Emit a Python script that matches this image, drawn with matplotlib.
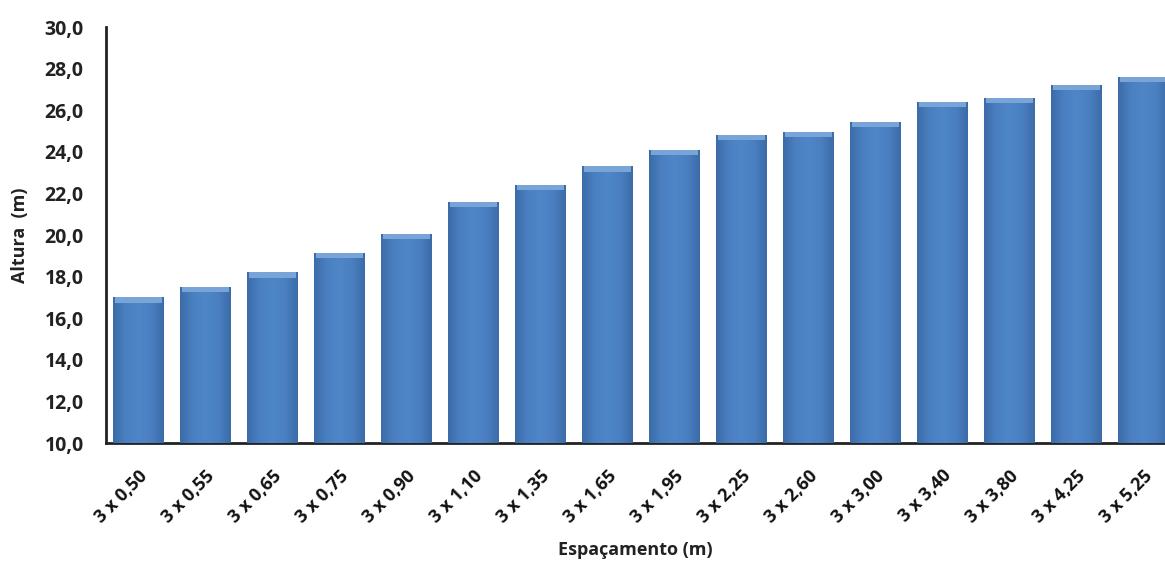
import matplotlib
matplotlib.use("Agg")
import matplotlib.pyplot as plt
import numpy as np
from matplotlib.colors import LinearSegmentedColormap
import matplotlib.transforms as mtransforms

categories = ["3 x 0,50", "3 x 0,55", "3 x 0,65", "3 x 0,75", "3 x 0,90", "3 x 1,10",
              "3 x 1,35", "3 x 1,65", "3 x 1,95", "3 x 2,25", "3 x 2,60", "3 x 3,00",
              "3 x 3,40", "3 x 3,80", "3 x 4,25", "3 x 5,25"]
heights = [17.0, 17.5, 18.2, 19.15, 20.05, 21.6, 22.4, 23.3, 24.1, 24.8, 24.95,
           25.45, 26.4, 26.6, 27.2, 27.6]
yticks = [10, 12, 14, 16, 18, 20, 22, 24, 26, 28, 30]
ytick_labels = ["10,0", "12,0", "14,0", "16,0", "18,0", "20,0", "22,0", "24,0",
                "26,0", "28,0", "30,0"]

plt.rcParams['font.family'] = ['Open Sans', 'DejaVu Sans']

fig = plt.figure(figsize=(11.65, 5.64), dpi=100)
ax = fig.add_axes([106/1165, 1 - 443/564, (1165 - 106)/1165, (443 - 27)/564])

x = np.arange(len(categories))
width = 0.76
bars = ax.bar(x, [h - 10 for h in heights], bottom=10, width=width,
              color="#4a80c2", edgecolor="none", zorder=2)

cmap = LinearSegmentedColormap.from_list(
    "bar", ["#3c6ca8", "#4a80c2", "#4f86c8", "#4a80c2", "#3c6ca8"])
grad = np.linspace(0, 1, 64).reshape(1, -1)
for b in bars:
    bx, by = b.get_x(), b.get_y()
    bw, bh = b.get_width(), b.get_height()
    im = ax.imshow(grad, cmap=cmap, aspect="auto", extent=[bx, bx + bw, by, by + bh],
                   zorder=3, interpolation="bicubic")
    im.set_clip_path(b)
    ax.bar(bx + bw / 2, 0.25, bottom=by + bh - 0.25, width=bw * 0.92,
           color="#79a4d8", edgecolor="none", zorder=4)

ax.set_xlim(-0.485, 15.32)
ax.set_ylim(10, 30)
ax.set_yticks(yticks)
ax.set_yticklabels(ytick_labels, fontsize=14, fontweight="bold", color="#222222")
ax.set_xticks(x)
ax.set_xticklabels(categories, rotation=45, ha="right", rotation_mode="anchor",
                   fontsize=13, fontweight="bold", color="#111111")
offset = mtransforms.ScaledTranslation(6/100, 0, fig.dpi_scale_trans)
for lbl in ax.get_xticklabels():
    lbl.set_transform(lbl.get_transform() + offset)
ax.tick_params(axis="y", length=0, pad=16)
ax.tick_params(axis="x", length=0, pad=17)

for s in ["top", "right"]:
    ax.spines[s].set_visible(False)
for s in ["left", "bottom"]:
    ax.spines[s].set_linewidth(2)
    ax.spines[s].set_color("#222222")

ax.set_ylabel("Altura  (m)", fontsize=13, fontweight="bold", color="#222222")
ax.yaxis.set_label_coords(-(106 - 29)/1059, 0.5)
fig.text(635/1165, 1 - 550/564, "Espaçamento (m)", ha="center", va="center",
         fontsize=13, fontweight="bold", color="#222222")

fig.savefig("out.png", dpi=100)
